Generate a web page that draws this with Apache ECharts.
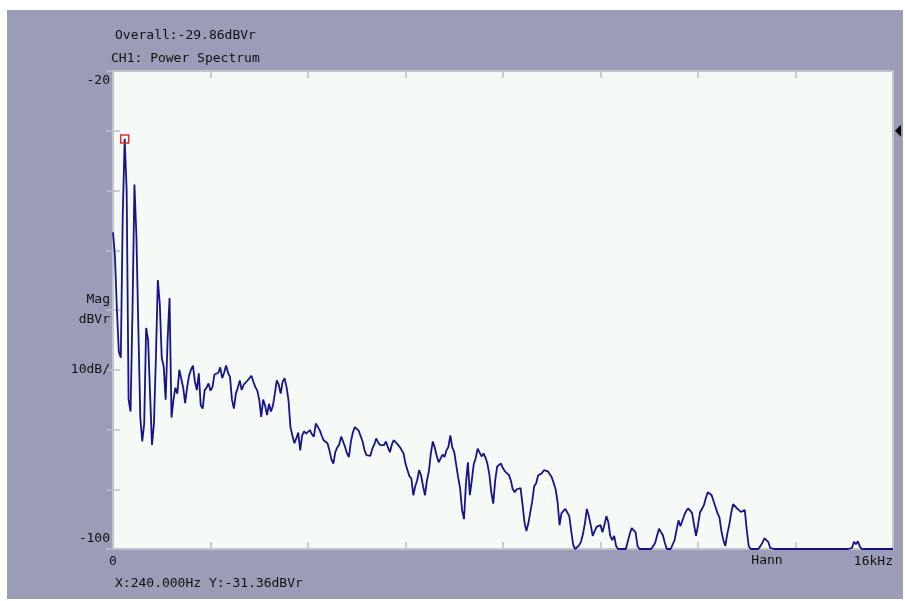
<!DOCTYPE html>
<html>
<head>
<meta charset="utf-8">
<script src="https://cdn.jsdelivr.net/npm/echarts@6/dist/echarts.min.js"></script>
<style>
  html, body { margin: 0; padding: 0; background: #ffffff; }
  #chart { width: 905px; height: 601px; }
</style>
</head>
<body>
<div id="chart"></div>
<script>
// Spectral line spacing of the analyser trace (Hz)
const FREQ_STEP = 40;
const SPAN_HZ = 16000;

// Magnitude in dBVr, one value per 40 Hz line, grouped in 2 kHz bands
const band0to2k = [
  -47, -51, -60, -67, -68, -44, -31.36, -40, -75, -77,
  -60, -39, -47.6, -63, -78, -82, -79, -63, -65, -74,
  -82.6, -79, -68, -55, -59, -68, -69.5, -75, -65, -58,
  -78, -75, -73, -74, -70, -70, -73, -75.6, -73, -71,
  -70, -69.3, -72, -73.4, -70.6, -76, -76.5, -73.4, -73, -72.3
];
const band2to4k = [
  -73.5, -72.9, -70.8, -71, -70.5, -69.6, -71.4, -70.5, -69.3, -70.5,
  -71.2, -75, -76.5, -74, -73, -71.8, -73.4, -72.5, -72.3, -71.8,
  -71.5, -71, -72, -72.9, -73.5, -75, -77.9, -75, -76, -77.6,
  -75.7, -77, -76, -74, -71.8, -72.5, -74, -72, -71.4, -72.9,
  -75.1, -79.6, -81, -82.3, -81.5, -80.5, -83.5, -81, -80.3, -80.7
];
const band4to6k = [
  -80.5, -80.1, -80.8, -81.2, -79, -78.7, -80.1, -81, -81.8, -82,
  -82.3, -83.5, -85, -85.7, -83.8, -83, -82.5, -81.2, -82, -82.9,
  -84, -84.6, -82, -80.5, -79.6, -79.9, -80.2, -80.5, -82, -83.5,
  -84.3, -84.5, -84.4, -83.2, -82.5, -81.5, -82.2, -82.6, -82.5, -82.6,
  -82, -83, -83.8, -82.5, -81.8, -81.6, -82.5, -82.9, -83.2, -84
];
const band6to8k = [
  -85.7, -86.8, -87.8, -88.2, -91, -89.5, -88.5, -86.8, -87.7, -89.5,
  -91, -88.5, -87, -84, -82, -83, -84.4, -85.5, -85.2, -84.2,
  -84.6, -83.5, -82.9, -81, -83, -83.8, -84, -88, -89.8, -93.5,
  -95, -89, -85.5, -91, -88.5, -85.8, -84.8, -83.2, -83.5, -84.5,
  -84, -84.7, -85.7, -87.5, -90.5, -92.4, -88.5, -86.2, -86, -85.7
];
const band8to10k = [
  -86.5, -87, -86.9, -87.6, -88.5, -90, -90.5, -90, -89.8, -89.8,
  -92.5, -95.5, -97, -95.7, -95.5, -92, -89.5, -89, -87.7, -87.5,
  -87.3, -86.8, -86.6, -87, -87.5, -88, -89, -90, -92.2, -96,
  -94, -93.8, -93.3, -93.3, -94.5, -97, -99.3, -100, -100, -99.4,
  -98.8, -97.5, -95.7, -93.3, -94.5, -96, -97.8, -97, -96.3, -96
];
const band10to12k = [
  -96, -97.2, -96, -94.5, -95.5, -97.8, -98.5, -97.8, -99.5, -100,
  -100, -100, -100, -100, -100, -97.5, -96.5, -96.3, -97.2, -99.5,
  -100, -100, -100, -100, -100, -100, -100, -100, -99, -97.8,
  -96.6, -96.8, -97.7, -99, -100, -100, -100, -100, -98.5, -96.8,
  -95.2, -96.2, -96.5, -94.3, -93.6, -93.2, -93.4, -94, -96, -97.8
];
const band12to14k = [
  -96, -93.9, -93.3, -92.7, -91.5, -90.5, -90.6, -91, -91.1, -93,
  -94, -94.7, -97, -98.5, -99.5, -97.5, -96, -94, -92.5, -92.6,
  -93.2, -93.5, -93.8, -93.7, -93.5, -96.8, -99.5, -100, -100, -100,
  -100, -100, -100, -99, -98.2, -98, -98.8, -99.8, -100, -100,
  -100, -100, -100, -100, -100, -100, -100, -100, -100, -100
];
const band14to16k = [
  -100, -100, -100, -100, -100, -100, -100, -100, -100, -100,
  -100, -100, -100, -100, -100, -100, -100, -100, -100, -100,
  -100, -100, -100, -100, -100, -100, -100, -100, -100, -99.8,
  -98.8, -99.2, -98.7, -99.6, -100, -100, -100, -100, -100, -100,
  -100, -100, -100, -100, -100, -100, -100, -100, -100, -100,
  -100
];

// Axis annotation text
const yTickLabels = { '-20': '-20', '-60': 'Mag\ndBVr', '-70': '10dB/', '-100': '-100' };
const xTickLabels = { '0': '0', '16000': '16kHz' };
const windowLabel = 'Hann';
const overallLabel = 'Overall:-29.86dBVr';
const traceTitle = 'CH1: Power Spectrum';

// Cursor and reference level
const cursorFreq = 240;
const refLevel = -30;

const magnitude = [].concat(band0to2k, band2to4k, band4to6k, band6to8k,
  band8to10k, band10to12k, band12to14k, band14to16k);
const trace = magnitude.map((v, i) => [i * FREQ_STEP, v]);
const cursorDb = magnitude[cursorFreq / FREQ_STEP];
const readout = 'X:' + cursorFreq.toFixed(3) + 'Hz Y:' + cursorDb.toFixed(2) + 'dBVr';

const mono = '"DejaVu Sans Mono", "Liberation Mono", monospace';
const textColor = '#111111';
const tick = { show: true, inside: true, length: 7, lineStyle: { color: '#bcbec3', width: 1.5 } };

const chart = echarts.init(document.getElementById('chart'), null, { renderer: 'canvas' });

chart.setOption({
  animation: false,
  backgroundColor: 'transparent',
  graphic: [
    { type: 'rect', z: -10, silent: true,
      shape: { x: 7, y: 10, width: 896, height: 589 },
      style: { fill: '#9a9cb8' } },
    { type: 'text', silent: true,
      style: { x: 115, y: 36, text: overallLabel, font: '13px ' + mono, fill: textColor,
               textVerticalAlign: 'middle', verticalAlign: 'middle' } },
    { type: 'text', silent: true,
      style: { x: 111, y: 59, text: traceTitle, font: '13px ' + mono, fill: textColor,
               textVerticalAlign: 'middle', verticalAlign: 'middle' } },
    { type: 'text', silent: true,
      style: { x: 767, y: 561, text: windowLabel, font: '13px ' + mono, fill: textColor,
               textAlign: 'center', align: 'center',
               textVerticalAlign: 'middle', verticalAlign: 'middle' } },
    { type: 'text', silent: true,
      style: { x: 115, y: 584, text: readout, font: '13px ' + mono, fill: textColor,
               textVerticalAlign: 'middle', verticalAlign: 'middle' } }
  ],
  grid: {
    left: 113, top: 71, right: 12, bottom: 52,
    show: true, backgroundColor: '#f5faf7', borderColor: '#c4c5cb', borderWidth: 2
  },
  xAxis: [
    {
      type: 'value', position: 'bottom', min: 0, max: SPAN_HZ, interval: 2000,
      axisLine: { show: false }, axisTick: tick, splitLine: { show: false },
      axisLabel: {
        formatter: v => xTickLabels[String(v)] || '',
        fontFamily: mono, fontSize: 13, color: textColor, margin: 6,
        alignMinLabel: 'center', alignMaxLabel: 'right'
      }
    },
    {
      type: 'value', position: 'top', min: 0, max: SPAN_HZ, interval: 2000,
      axisLine: { show: false }, axisTick: tick, splitLine: { show: false },
      axisLabel: { show: false }
    }
  ],
  yAxis: [
    {
      type: 'value', position: 'left', min: -100, max: -20, interval: 10,
      axisLine: { show: false }, axisTick: tick, splitLine: { show: false },
      axisLabel: {
        formatter: v => yTickLabels[String(v)] || '',
        fontFamily: mono, fontSize: 13, color: textColor, margin: 3, lineHeight: 20,
        verticalAlignMinLabel: 'bottom', verticalAlignMaxLabel: 'top'
      }
    },
    {
      type: 'value', position: 'right', min: -100, max: -20, interval: 10,
      axisLine: { show: false }, axisTick: tick, splitLine: { show: false },
      axisLabel: { show: false }
    }
  ],
  series: [
    {
      type: 'line',
      xAxisIndex: 0, yAxisIndex: 0,
      data: trace,
      showSymbol: false,
      clip: true,
      lineStyle: { color: '#16148a', width: 1.8 },
      markPoint: {
        silent: true,
        label: { show: false },
        data: [
          { coord: [cursorFreq, cursorDb], symbol: 'rect', symbolSize: 8,
            itemStyle: { color: 'rgba(0,0,0,0)', borderColor: '#e8262b', borderWidth: 1.5 } },
          { coord: [SPAN_HZ, refLevel], symbol: 'triangle', symbolRotate: 90,
            symbolSize: [12, 6], symbolOffset: [5, 0],
            itemStyle: { color: '#000000' } }
        ]
      }
    }
  ]
});
</script>
</body>
</html>
